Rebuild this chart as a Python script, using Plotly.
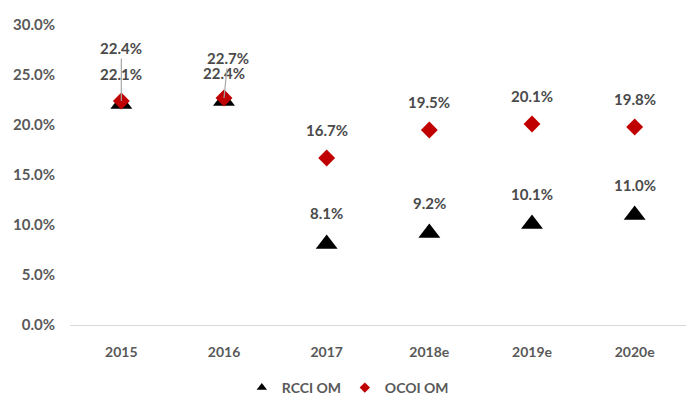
import plotly.graph_objects as go

categories = ["2015", "2016", "2017", "2018e", "2019e", "2020e"]
rcci_om = [0.221, 0.224, 0.081, 0.092, 0.101, 0.110]
ocoi_om = [0.224, 0.227, 0.167, 0.195, 0.201, 0.198]
y_ticks = [0, 0.05, 0.10, 0.15, 0.20, 0.25, 0.30]

FONT = "Lato"
TXT = "#595959"
LBL = "#4a4a4a"

fig = go.Figure()
fig.add_trace(go.Scatter(x=categories, y=rcci_om, mode="markers", name="RCCI OM", showlegend=False,
                         marker=dict(symbol="triangle-up", size=19, color="#000000")))
fig.add_trace(go.Scatter(x=categories, y=ocoi_om, mode="markers", name="OCOI OM", showlegend=False,
                         marker=dict(symbol="diamond", size=13, color="#C00000")))
# legend-only entries with small symbols
fig.add_trace(go.Scatter(x=[None], y=[None], mode="markers", name="RCCI OM",
                         marker=dict(symbol="triangle-up", size=9, color="#000000")))
fig.add_trace(go.Scatter(x=[None], y=[None], mode="markers", name="OCOI OM",
                         marker=dict(symbol="diamond", size=8, color="#C00000")))

# label offsets (pixels), leader lines where labels were moved
r_off = [(0, -30, False), (0, -28, False), (0, -31, False), (0, -30, False), (0, -30, False), (0, -30, False)]
o_off = [(0, -53, True), (4, -40, True), (0, -28, False), (0, -28, False), (0, -28, False), (0, -28, False)]

for series, offs in ((rcci_om, r_off), (ocoi_om, o_off)):
    for i, (v, (dx, dy, lead)) in enumerate(zip(series, offs)):
        if lead:
            fig.add_annotation(x=i, y=v, text=f"{v*100:.1f}%", showarrow=True,
                               ax=dx, ay=dy, arrowhead=0, arrowwidth=1.2,
                               arrowcolor="#A6A6A6", standoff=0,
                               font=dict(family=FONT, size=15, color=LBL, weight="bold"))
        else:
            fig.add_annotation(x=i, y=v, text=f"{v*100:.1f}%", showarrow=False,
                               xshift=dx, yshift=-dy,
                               font=dict(family=FONT, size=15, color=LBL, weight="bold"))

fig.update_layout(
    width=687, height=400,
    margin=dict(l=70, r=1, t=25, b=75),
    paper_bgcolor="white", plot_bgcolor="white",
    font=dict(family=FONT, size=14, color=TXT),
    showlegend=True,
    legend=dict(orientation="h", xref="container", yref="container",
                x=0.352, xanchor="left", y=0.03, yanchor="middle",
                font=dict(family=FONT, size=14, color=TXT, weight="bold"),
                itemwidth=30, entrywidth=58, traceorder="normal"),
)
fig.update_xaxes(type="category", range=[-0.5, 5.5], showgrid=False, showline=True, linecolor="#D9D9D9",
                 linewidth=1, ticks="", tickfont=dict(family=FONT, size=14, color=TXT, weight="bold"),
                 zeroline=False, ticklabelstandoff=14)
fig.update_yaxes(range=[0, 0.3], tickvals=y_ticks, tickformat=".1%", showgrid=False,
                 showline=False, zeroline=False, ticks="",
                 tickfont=dict(family=FONT, size=15, color=TXT, weight="bold"), ticklabelstandoff=14)

# remove the browser's default body margin so the figure fills the window exactly
fig.write_html("out.html", config={"displayModeBar": False},
               post_script="document.body.style.margin='0';document.body.style.overflow='hidden';")
